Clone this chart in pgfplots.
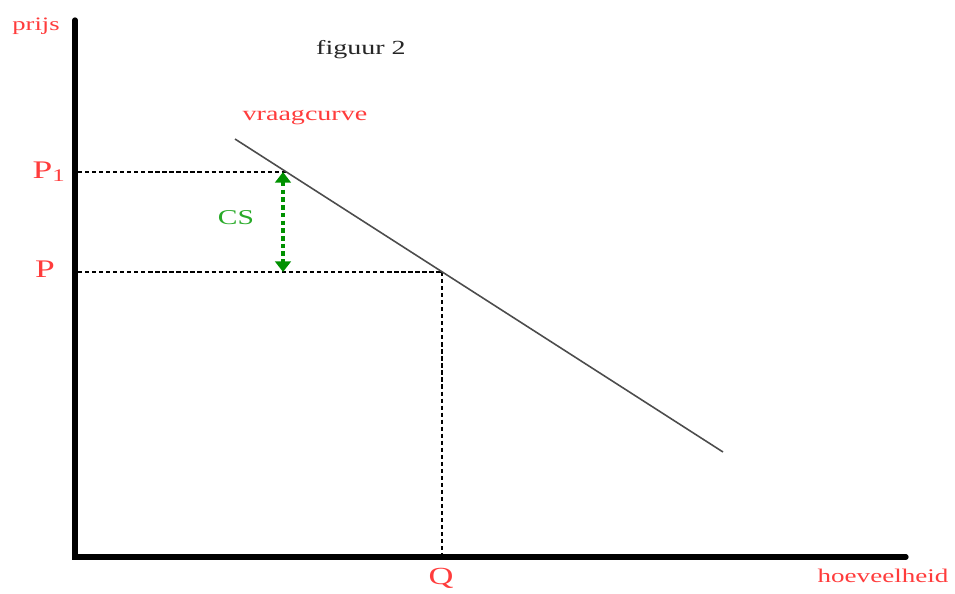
\documentclass[border=0pt]{standalone}
\usepackage{pgfplots}
\pgfplotsset{compat=1.18}
\usepackage{fontspec}
\setmainfont{Liberation Serif}
\usetikzlibrary{arrows.meta}
\definecolor{lblred}{RGB}{255,60,60}
\definecolor{csgreen}{RGB}{0,145,0}
\definecolor{cstext}{RGB}{40,170,40}
\begin{document}
\begin{tikzpicture}
\begin{axis}[
  name=ax,
  scale only axis, width=9.55cm, height=5.93cm,
  xmin=0, xmax=955, ymin=0, ymax=593,
  hide axis, clip=false,
]
% axes
\addplot[black, line width=1.5pt, line cap=round] coordinates {(75,573) (75,36) (906,36)};
% dashed guides
\addplot[black, line width=0.35pt, dash pattern=on 1.2pt off 0.8pt] coordinates {(78,421) (286,421)};
\addplot[black, line width=0.35pt, dash pattern=on 1.2pt off 0.8pt] coordinates {(78,321) (442,321)};
\addplot[black, line width=0.35pt, dash pattern=on 1.2pt off 0.8pt] coordinates {(442,321) (442,38)};
% demand curve
\addplot[black!70, line width=0.45pt] coordinates {(235,454) (723,141)};
% CS arrow
\addplot[csgreen, line width=1.4pt, dash pattern=on 1.3pt off 0.9pt, {Triangle[width=4.4pt,length=3pt]}-{Triangle[width=4.4pt,length=3pt]}] coordinates {(283,421) (283,321)};
% labels
\node[text=lblred, xscale=1.4, font=\fontsize{5.4pt}{6pt}\selectfont] at (axis cs:36,567) {prijs};
\node[text=black!85, xscale=1.4, font=\fontsize{5.7pt}{7pt}\selectfont] at (axis cs:361,543) {figuur 2};
\node[text=lblred, xscale=1.4, font=\fontsize{5.7pt}{7pt}\selectfont] at (axis cs:305,475) {vraagcurve};
\node[text=lblred, xscale=1.4, font=\fontsize{7.2pt}{8pt}\selectfont, anchor=base] at (axis cs:50,415) {P$_{\mathrm{1}}$};
\node[text=lblred, xscale=1.4, font=\fontsize{7.2pt}{8pt}\selectfont, anchor=base] at (axis cs:45,316) {P};
\node[text=cstext, xscale=1.4, font=\fontsize{6pt}{7pt}\selectfont] at (axis cs:236,375) {CS};
\node[text=lblred, xscale=1.4, font=\fontsize{7pt}{8pt}\selectfont] at (axis cs:441,15) {Q};
\node[text=lblred, xscale=1.4, font=\fontsize{5.5pt}{7pt}\selectfont] at (axis cs:883,17) {hoeveelheid};
\end{axis}
\pgfresetboundingbox
\path (ax.south west) rectangle (ax.north east);
\end{tikzpicture}
\end{document}
